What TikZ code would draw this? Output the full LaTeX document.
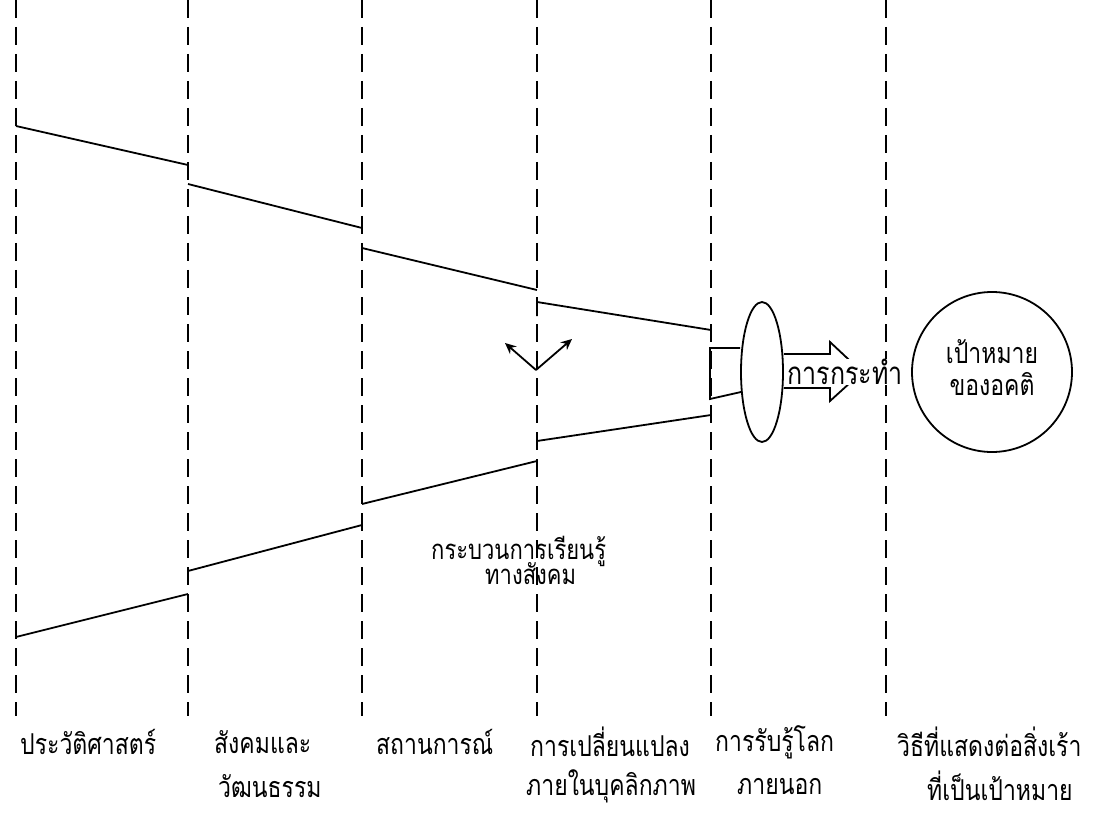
\documentclass[tikz,border=0pt]{standalone}
\usepackage{graphicx}
\usepackage{fontspec}
\newfontfamily\thaifont[Script=Thai]{Loma}
\newcommand{\tall}[1]{\scalebox{1}[1.25]{#1}}
\usetikzlibrary{shapes.geometric,arrows.meta}

\tikzset{
  stage/.style={dash pattern=on 18pt off 9pt, line width=1.7pt},
  link/.style={line width=1.8pt},
  lbl/.style={font=\thaifont\fontsize{23}{27}\selectfont, inner sep=0pt, anchor=west},
}

\begin{document}
\begin{tikzpicture}[x=1pt, y=-1pt]
  \useasboundingbox (0,0) rectangle (1106,813);
  % stage boundaries
  \foreach \x [count=\i] in {16,188,362,537,711,886} {
    \coordinate (top\i) at (\x,0);
    \coordinate (bot\i) at (\x,716);
    \draw[stage] (top\i) -- (bot\i);
  }
  % upper steps
  \draw[link] (16,126) -- (188,165);
  \draw[link] (188,184) -- (362,228);
  \draw[link] (362,248) -- (537,290);
  \draw[link] (537,316) -- (537,302) -- (711,330);
  % lower steps
  \draw[link] (16,637) -- (188,594);
  \draw[link] (188,571) -- (362,525);
  \draw[link] (362,504) -- (537,461);
  \draw[link] (537,441) -- (711,415);
  % split arrows
  \coordinate (fork) at (536,370);
  \coordinate (forkl) at (505,343);
  \coordinate (forkr) at (572,339);
  \draw[link, -{Stealth[length=11pt, width=10pt]}] (fork) -- (forkl);
  \draw[link, -{Stealth[length=11pt, width=10pt]}] (fork) -- (forkr);
  % perception
  \node[ellipse, draw, link, inner sep=0pt, minimum width=42pt, minimum height=140pt] (percept) at (762,372) {};
  \draw[link] (percept.west |- 0,348) -- (710,348) -- (710,399) -- (741,392);
  \draw[link] (percept.east |- 0,354) -- (830,354) -- (830,342) -- (862,372)
    -- (830,401) -- (830,388) -- (percept.east |- 0,388);
  \node[lbl, font=\thaifont\fontsize{25}{29}\selectfont, fill=white, inner sep=0.5pt] (act) at (787,372) {\tall{การกระทำ}};
  % target
  \node[circle, draw, link, minimum size=160pt] (target) at (992,372) {};
  \node[lbl, anchor=center] (goal1) at ([yshift=20pt]target.center) {\tall{เป้าหมาย}};
  \node[lbl, anchor=center] (goal2) at ([yshift=-12pt]target.center) {\tall{ของอคติ}};
  % social learning
  \node[lbl, font=\thaifont\fontsize{22}{26}\selectfont] (learn1) at (431,551) {\tall{กระบวนการเรียนรู้}};
  \node[lbl, font=\thaifont\fontsize{22}{26}\selectfont] (learn2) at (485,574) {\tall{ทางสังคม}};
  % stage labels
  \node[lbl] (hist) at (20,742) {\tall{ประวัติศาสตร์}};
  \node[lbl] (soc1) at (214,742) {\tall{สังคมและ}};
  \node[lbl] (soc2) at (218,786) {\tall{วัฒนธรรม}};
  \node[lbl] (sit) at (376,742) {\tall{สถานการณ์}};
  \node[lbl] (chg1) at (530,742) {\tall{การเปลี่ยนแปลง}};
  \node[lbl] (chg2) at (526,786) {\tall{ภายในบุคลิกภาพ}};
  \node[lbl] (per1) at (715,742) {\tall{การรับรู้โลก}};
  \node[lbl] (per2) at (737,786) {\tall{ภายนอก}};
  \node[lbl] (resp1) at (897,742) {\tall{วิธีที่แสดงต่อสิ่งเร้า}};
  \node[lbl] (resp2) at (927,786) {\tall{ที่เป็นเป้าหมาย}};
\end{tikzpicture}
\end{document}
